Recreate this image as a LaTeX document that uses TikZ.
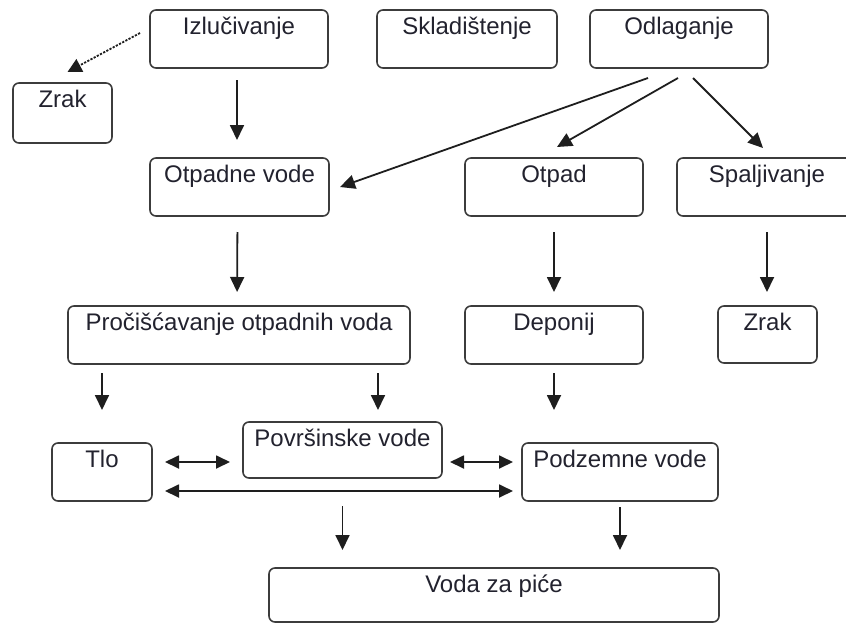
\documentclass[tikz,border=0pt]{standalone}
\usepackage{fontspec}
\setmainfont{Liberation Sans}
\usetikzlibrary{arrows.meta,calc}
\definecolor{boxc}{HTML}{3C3C3C}
\definecolor{arrc}{HTML}{1E1E1E}
\definecolor{txtc}{HTML}{22222E}
\newcommand{\bxt}[3]{\parbox[t][#2pt][t]{#1pt}{\centering\rule{0pt}{24pt}#3}}
\tikzset{
  bx/.style={draw=boxc, line width=1.6pt, rounded corners=6pt, anchor=north west,
    inner sep=0pt, outer sep=0pt, text=txtc},
  arr/.style={-{Triangle[length=15pt,width=14pt]}, line width=1.8pt, draw=arrc},
  darr/.style={{Triangle[length=14pt,width=13pt]}-{Triangle[length=14pt,width=13pt]}, line width=1.8pt, draw=arrc},
  dotarr/.style={-{Triangle[length=14pt,width=14pt]}, line width=1.8pt, draw=arrc,
    dash pattern=on 2.2pt off 1.4pt},
}
\begin{document}
\begin{tikzpicture}[x=1pt,y=-1pt,font=\fontsize{24}{28}\selectfont]
\useasboundingbox (0,0) rectangle (846,624);

% row 1
\node[bx] (iz) at (150,10) {\bxt{178}{58}{Izlučivanje}};
\node[bx] (sk) at (377,10) {\bxt{180}{58}{Skladištenje}};
\node[bx] (od) at (590,10) {\bxt{178}{58}{Odlaganje}};
\node[bx] (zr1) at (13,83) {\bxt{99}{60}{Zrak}};

% row 2
\node[bx] (ov) at (150,158) {\bxt{179}{58}{Otpadne vode}};
\node[bx] (ot) at (465,158) {\bxt{178}{58}{Otpad}};
\node[bx] (sp) at (677,158) {\bxt{180}{58}{Spaljivanje}};

% row 3
\node[bx] (pr) at (68,306) {\bxt{342}{58}{Pročišćavanje otpadnih voda}};
\node[bx] (de) at (465,306) {\bxt{178}{58}{Deponij}};
\node[bx] (zr2) at (718,306) {\bxt{99}{57}{Zrak}};

% row 4
\node[bx] (tlo) at (52,443) {\bxt{100}{58}{Tlo}};
\node[bx] (pov) at (243,422) {\bxt{199}{56}{Površinske vode}};
\node[bx] (pod) at (522,443) {\bxt{196}{58}{Podzemne vode}};

% row 5
\node[bx] (voda) at (269,568) {\bxt{450}{54}{Voda za piće}};

\coordinate (povin) at ([xshift=35.5pt]pov.north);

% connectors
\draw[dotarr] ([shift={(-10,-6)}]iz.west) -- ([shift={(5,-11)}]zr1.north);
\draw[arr, shorten <=12pt, shorten >=18pt] ([xshift=-2pt]iz.south) -- ([xshift=-2.5pt]ov.north);

\draw[arr] ([shift={(-31,10)}]od.south) -- ([xshift=11pt]ov.east);
\draw[arr] ([shift={(-1,10)}]od.south) -- ([shift={(3,-11)}]ot.north);
\draw[arr] ([shift={(14,10)}]od.south) -- ([shift={(-4,-10)}]sp.north);

\draw[arr, shorten <=16pt, shorten >=14pt] ([xshift=-2pt]ov.south) -- ([xshift=-2.5pt]ov.south |- pr.north);
\draw[arr, shorten <=16pt, shorten >=14pt] (ot.south) -- (de.north);
\draw[arr, shorten <=16pt, shorten >=14pt] (sp.south) -- (sp.south |- zr2.north);

\draw[arr, shorten <=9pt, shorten >=33pt] (pr.south -| tlo.north) -- (tlo.north);
\draw[arr, shorten <=9pt, shorten >=12pt] (pr.south -| povin) -- (povin);
\draw[arr, shorten <=9pt, shorten >=33pt] (de.south) -- (de.south |- pod.north);

\draw[darr, shorten <=13pt, shorten >=13pt] ([shift={(0,-10)}]tlo.east) -- ([shift={(0,-10)}]tlo.east -| pov.west);
\draw[darr, shorten <=8pt, shorten >=9pt] ([shift={(0,-10)}]pod.west -| pov.east) -- ([shift={(0,-10)}]pod.west);
\draw[darr, shorten <=13pt, shorten >=9pt] ([shift={(0,19)}]tlo.east) -- ([shift={(0,19)}]tlo.east -| pod.west);

\draw[arr, shorten <=28pt, shorten >=18pt] (pov.south) -- (pov.south |- voda.north);
\draw[arr, shorten <=6pt, shorten >=18pt] (pod.south) -- (pod.south |- voda.north);
\end{tikzpicture}
\end{document}
